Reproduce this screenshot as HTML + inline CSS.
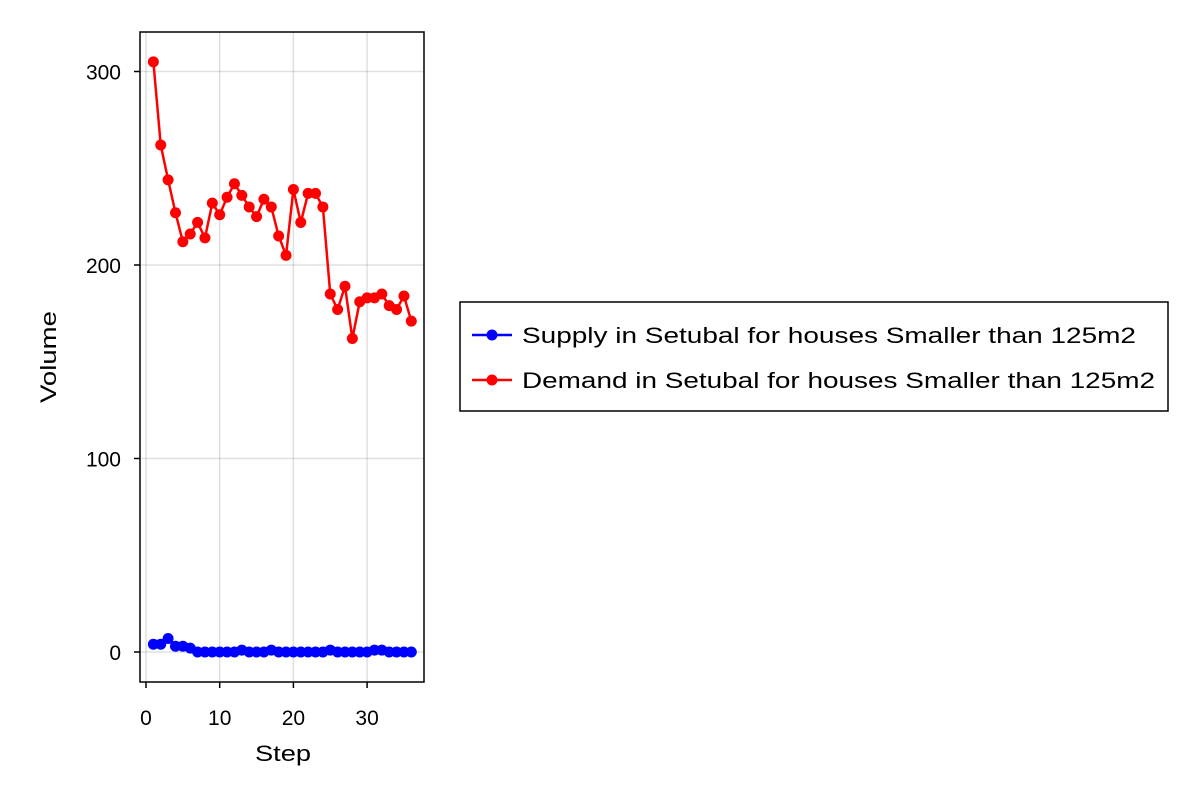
<!DOCTYPE html>
<html><head><meta charset="utf-8"><style>body{margin:0;background:#fff}svg text{font-family:"Liberation Sans",sans-serif}</style></head>
<body>
<svg width="1200" height="800" xmlns="http://www.w3.org/2000/svg">
<g id="grid"></g>
<rect x="140" y="32" width="284" height="650" fill="none" stroke="#000" stroke-width="1.5"/>
<g id="ticks"></g>
<g id="series"></g>
<text x="283" y="761" font-size="22" text-anchor="middle" textLength="56" lengthAdjust="spacingAndGlyphs">Step</text>
<text x="56" y="357" font-size="22" text-anchor="middle" textLength="92" lengthAdjust="spacingAndGlyphs" transform="rotate(-90 56 357)">Volume</text>
<g>
<rect x="460" y="302" width="708" height="109" fill="#fff" stroke="#000" stroke-width="1.5"/>
<g><line x1="472" y1="335" x2="512" y2="335" stroke="#00f" stroke-width="2.5"/><circle cx="492" cy="335" r="5.5" fill="#00f"/><text x="522" y="343" font-size="22" textLength="614" lengthAdjust="spacingAndGlyphs">Supply in Setubal for houses Smaller than 125m2</text></g>
<g><line x1="472" y1="380" x2="512" y2="380" stroke="#f00" stroke-width="2.5"/><circle cx="492" cy="380" r="5.5" fill="#f00"/><text x="522" y="388" font-size="22" textLength="633" lengthAdjust="spacingAndGlyphs">Demand in Setubal for houses Smaller than 125m2</text></g>
</g>
</svg>
<script>
const steps=[1,2,3,4,5,6,7,8,9,10,11,12,13,14,15,16,17,18,19,20,21,22,23,24,25,26,27,28,29,30,31,32,33,34,35,36];
const supply=[4,4,7,3,3,2,0,0,0,0,0,0,1,0,0,0,1,0,0,0,0,0,0,0,1,0,0,0,0,0,1,1,0,0,0,0];
const demand=[305,262,244,227,212,216,222,214,232,226,235,242,236,230,225,234,230,215,205,239,222,237,237,230,185,177,189,162,181,183,183,185,179,177,184,171];
const xTicks=[0,10,20,30];
const yTicks=[0,100,200,300];
const xs=v=>146+v*7.37;
const ys=v=>652-v*1.935;
const NS='http://www.w3.org/2000/svg';
function mk(tag,attrs,parent){const e=document.createElementNS(NS,tag);for(const k in attrs)e.setAttribute(k,attrs[k]);parent.appendChild(e);return e;}
const grid=document.getElementById('grid'),ticks=document.getElementById('ticks'),ser=document.getElementById('series');
xTicks.forEach(t=>{const x=xs(t);
const g=mk('line',{x1:x,x2:x,y1:32,y2:682,stroke:'#000','stroke-opacity':0.12,'stroke-width':1.5},grid);


mk('line',{x1:x,x2:x,y1:682,y2:688,stroke:'#000','stroke-width':1.5},ticks);
const tx=mk('text',{x:x,y:725,'font-size':21,'text-anchor':'middle'},ticks);tx.textContent=t;

});
yTicks.forEach(t=>{const y=ys(t);
const g=mk('line',{x1:140,x2:424,y1:y,y2:y,stroke:'#000','stroke-opacity':0.12,'stroke-width':1.5},grid);


mk('line',{x1:134,x2:140,y1:y,y2:y,stroke:'#000','stroke-width':1.5},ticks);
const tx=mk('text',{x:121,y:y+8,'font-size':21,'text-anchor':'end'},ticks);tx.textContent=t;

});
function draw(vals,color,name){
const p=mk('polyline',{points:vals.map((v,i)=>xs(steps[i])+','+ys(v)).join(' '),fill:'none',stroke:color,'stroke-width':2.5},ser);


vals.forEach((v,i)=>{const c=mk('circle',{cx:xs(steps[i]),cy:ys(v),r:5.5,fill:color},ser);

});}
draw(supply,'#00f','supply');
draw(demand,'#f00','demand');
</script>
</body></html>
